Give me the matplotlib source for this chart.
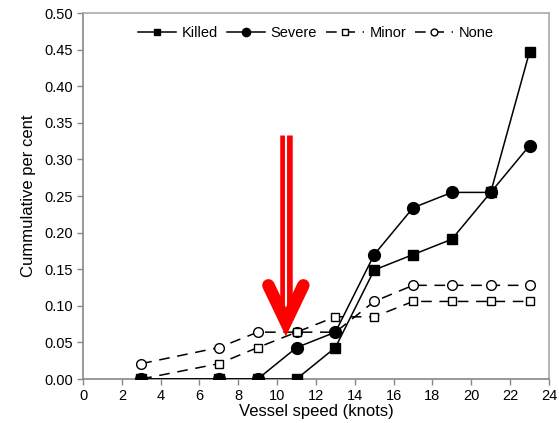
import matplotlib
matplotlib.use("Agg")
import matplotlib.pyplot as plt
from matplotlib.ticker import FormatStrFormatter

plt.rcParams['font.family'] = ['Liberation Sans', 'DejaVu Sans']

speed = [3, 7, 9, 11, 13, 15, 17, 19, 21, 23]
killed = [0.0, 0.0, 0.0, 0.0, 0.043, 0.149, 0.170, 0.191, 0.255, 0.447]
severe = [0.0, 0.0, 0.0, 0.043, 0.064, 0.170, 0.234, 0.255, 0.255, 0.319]
minor = [0.0, 0.021, 0.043, 0.064, 0.085, 0.085, 0.106, 0.106, 0.106, 0.106]
none_ = [0.021, 0.043, 0.064, 0.064, 0.064, 0.106, 0.128, 0.128, 0.128, 0.128]

xticks = list(range(0, 25, 2))
yticks = [0.00, 0.05, 0.10, 0.15, 0.20, 0.25, 0.30, 0.35, 0.40, 0.45, 0.50]

fig = plt.figure(figsize=(5.59, 4.23), dpi=100)
ax = fig.add_axes([0.1485, 0.104, 0.8335, 0.865])

ax.plot(speed, none_, color='black', lw=1.1, ls=(0, (7, 5)), marker='o', ms=7,
        mfc='white', mec='black', mew=1.0, label='None', zorder=2)
ax.plot(speed, minor, color='black', lw=1.1, ls=(0, (7, 5)), marker='s', ms=6,
        mfc='white', mec='black', mew=1.0, label='Minor', zorder=2)
ax.plot(speed, killed, color='black', lw=1.1, marker='s', ms=7,
        mfc='black', mec='black', label='Killed', zorder=3)
ax.plot(speed, severe, color='black', lw=1.1, marker='o', ms=8.5,
        mfc='black', mec='black', label='Severe', zorder=3)

# red arrow annotation
ax.plot([10.45, 10.45], [0.333, 0.085], color='red', lw=9, solid_capstyle='butt', zorder=5)
ax.plot([10.45, 10.45], [0.333, 0.09], color='white', lw=1.5, solid_capstyle='butt', zorder=6)
ax.plot([9.55, 10.45, 11.35], [0.128, 0.078, 0.128], color='red', lw=9,
        solid_capstyle='round', solid_joinstyle='miter', zorder=7)

ax.set_xlim(0, 24)
ax.set_ylim(0, 0.5)
ax.set_xticks(xticks)
ax.set_yticks(yticks)
ax.yaxis.set_major_formatter(FormatStrFormatter('%.2f'))
ax.tick_params(direction='out', length=4, width=1, color='#888888', labelsize=10.5, pad=3)
for s in ax.spines.values():
    s.set_color('#aaaaaa')
    s.set_linewidth(1.2)
ax.spines['left'].set_color('#888888')
ax.spines['bottom'].set_color('#888888')

ax.set_xlabel('Vessel speed (knots)', fontsize=12, labelpad=1)
ax.set_ylabel('Cummulative per cent', fontsize=12, labelpad=6)

h, l = ax.get_legend_handles_labels()
order = [2, 3, 1, 0]
ax.legend([h[i] for i in order], [l[i] for i in order], loc='upper center', ncol=4,
          frameon=False, fontsize=10.5, handlelength=2.6, columnspacing=0.6,
          handletextpad=0.4, markerscale=0.7, bbox_to_anchor=(0.5, 1.0))

fig.savefig('out.png', dpi=100)
